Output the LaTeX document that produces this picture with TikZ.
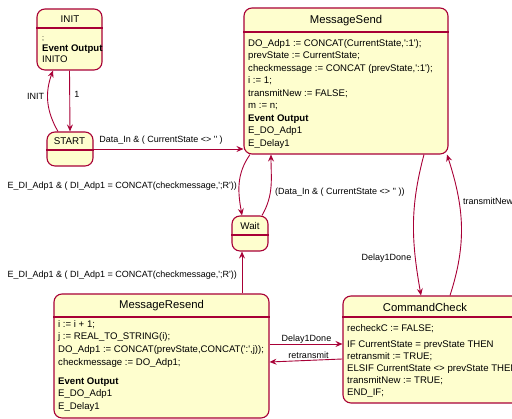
\documentclass[tikz,border=0pt]{standalone}
\usepackage{fontspec}
\setmainfont{Liberation Sans}
\usetikzlibrary{arrows.meta}
\definecolor{stline}{HTML}{A80036}
\definecolor{stfill}{HTML}{FEFECE}
\newcommand{\sq}{\textquotesingle}

\begin{document}
\begin{tikzpicture}[x=1pt,y=1pt,
  statebox/.style={draw=stline, fill=stfill, line width=1.1pt, rounded corners=8pt, inner sep=0pt},
  ttl/.style={font=\fontsize{11.3}{13}\selectfont, inner sep=0pt},
  sttl/.style={font=\fontsize{9.8}{12}\selectfont, inner sep=0pt},
  body/.style={align=left, anchor=base west, inner sep=0pt},
  lbl/.style={font=\fontsize{9}{11}\selectfont, inner sep=0pt},
  arr/.style={draw=stline, line width=0.9pt, -{Stealth[length=7pt,width=6pt,inset=2.5pt]}},
  sep/.style={draw=stline, line width=1.1pt}]

\useasboundingbox (0,0) rectangle (512,419);
\clip (0,0) rectangle (512,419);

% state boxes
\node[statebox, minimum width=65, minimum height=61] (init) at (69.5,379.5) {};
\node[statebox, minimum width=46, minimum height=34] (start) at (70,270) {};
\node[statebox, minimum width=204, minimum height=146] (msend) at (346,338) {};
\node[statebox, minimum width=36, minimum height=35] (wait) at (250,185.5) {};
\node[statebox, minimum width=215, minimum height=124] (resend) at (161.5,63) {};
\node[statebox, minimum width=192, minimum height=107] (cmd) at (439,69.5) {};

% header separators
\draw[sep] ([yshift=11.5]init.west) -- ([yshift=11.5]init.east);
\draw[sep] ([yshift=-1]start.west) -- ([yshift=-1]start.east);
\draw[sep] ([yshift=49]msend.west) -- ([yshift=49]msend.east);
\draw[sep] ([yshift=-1.5]wait.west) -- ([yshift=-1.5]wait.east);
\draw[sep] ([yshift=39]resend.west) -- ([yshift=39]resend.east);
\draw[sep] ([yshift=32.5]cmd.west) -- ([yshift=32.5]cmd.east);

% titles
\node[sttl] (tinit) at (70,400) {INIT};
\node[sttl] (tstart) at (69.5,278) {START};
\node[ttl] (tmsend) at (346,398) {MessageSend};
\node[sttl] (twait) at (250,193) {Wait};
\node[ttl] (tresend) at (161.5,113) {MessageResend};
\node[ttl] (tcmd) at (425,112) {CommandCheck};

% state bodies (anchored at the baseline of their last line)
\node[body, font=\fontsize{9.6}{11}\selectfont] (binit) at (42,356.5)
  {{\fontsize{7}{8}\selectfont ;}\\\textbf{Event Output}\\INITO};

\node[body, font=\fontsize{9.6}{12.5}\selectfont] (bmsend) at (248,272.5)
  {DO\_Adp1 := CONCAT(CurrentState,\sq:1\sq);\\
   prevState := CurrentState;\\
   checkmessage\ := CONCAT\ (prevState,\sq:1\sq);\\
   i := 1;\\
   transmitNew := FALSE;\\
   m := n;\\
   \textbf{Event Output}\\
   E\_DO\_Adp1\\
   E\_Delay1};

\node[body, font=\fontsize{9.6}{12.7}\selectfont] (bresend) at (58,9.5)
  {i := i + 1;\\
   j := REAL\_TO\_STRING(i);\\
   DO\_Adp1 := CONCAT(prevState,CONCAT(\sq:\sq,j));\\
   checkmessage\ :=\ DO\_Adp1;\\[6pt]
   \textbf{Event Output}\\
   E\_DO\_Adp1\\
   E\_Delay1};

\node[body, font=\fontsize{9.6}{12}\selectfont] (bcmd) at (347,23.5)
  {recheckC := FALSE;\\[4pt]
   IF CurrentState = prevState THEN\\
   retransmit := TRUE;\\
   ELSIF CurrentState <> prevState THEN\\
   transmitNew := TRUE;\\
   END\_IF;};

% transitions
\draw[arr] (init.south) -- (start.north);
\draw[arr] ([xshift=-12]start.north) to[out=120,in=-110] ([xshift=-16.5]init.south);
\draw[arr] (start.east) -- (start.east -| msend.west);
\draw[arr] (msend.south -| wait.north) to[out=-125,in=100] ([xshift=-8]wait.north);
\draw[arr] ([xshift=12]wait.north) to[out=60,in=-90] ([xshift=-75]msend.south);
\coordinate (wv) at ([xshift=-8]wait.south);
\draw[arr] (resend.north -| wv) -- (wv);
\draw[arr] ([xshift=78]msend.south) to[out=-105,in=100] ([xshift=-18]cmd.north);
\draw[arr] ([xshift=11]cmd.north) to[out=72,in=-72] ([xshift=101]msend.south);
\draw[arr] ([yshift=12]resend.east) -- ([yshift=12]resend.east -| cmd.west);
\draw[arr] ([yshift=-9.5]cmd.west) -- ([yshift=-6]resend.east);

% transition labels
\node[lbl] (linit) at (35.5,323) {INIT};
\node[lbl] (lone) at (77,325) {1};
\node[lbl] (ldata) at (161,279) {Data\_In \& ( CurrentState <> \sq\sq\ )};
\node[lbl, anchor=east] (ldi1) at (237,233) {E\_DI\_Adp1 \& ( DI\_Adp1 = CONCAT(checkmessage,\sq;R\sq))};
\node[lbl, anchor=east] (ldi2) at (237,144) {E\_DI\_Adp1 \& ( DI\_Adp1 = CONCAT(checkmessage,\sq;R\sq))};
\node[lbl, anchor=west] (ldata2) at (275,227) {(Data\_In \& ( CurrentState <> \sq\sq\ ))};
\node[lbl] (ldelay1) at (386.5,161) {Delay1Done};
\node[lbl, anchor=west] (ltrans) at (463,218) {transmitNew};
\node[lbl] (ldelay2) at (306.5,80) {Delay1Done};
\node[lbl] (lretr) at (308.5,64) {retransmit};
\end{tikzpicture}
\end{document}
